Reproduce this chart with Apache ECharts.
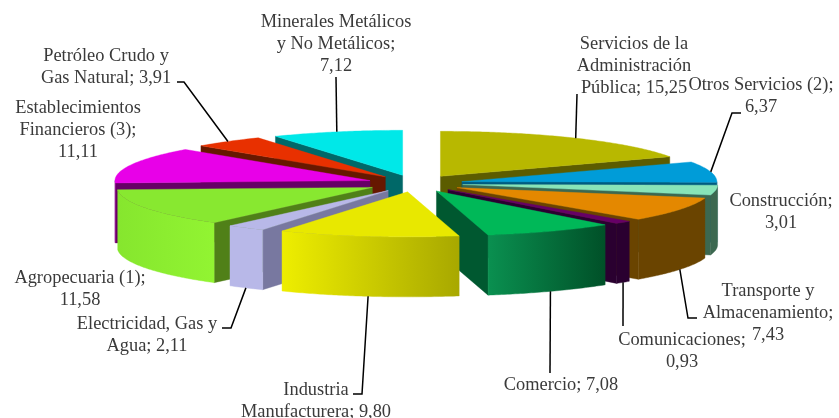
<!DOCTYPE html>
<html>
<head>
<meta charset="utf-8">
<style>html,body{margin:0;padding:0;background:#fff}#c{width:839px;height:418px}</style>
<script src="https://cdn.jsdelivr.net/npm/echarts@6/dist/echarts.min.js"></script>
</head>
<body>
<div id="c"></div>
<script>
// ---- data ----
const categories = [
  'Servicios de la\nAdministración\nPública', 'Otros Servicios (2)', 'Construcción',
  'Transporte y\nAlmacenamiento', 'Comunicaciones', 'Comercio',
  'Industria\nManufacturera', 'Electricidad, Gas y\nAgua', 'Agropecuaria (1)',
  'Establecimientos\nFinancieros (3)', 'Petróleo Crudo y\nGas Natural', 'Minerales Metálicos\ny No Metálicos'
];
const values = [15.25, 6.37, 3.01, 7.43, 0.93, 7.08, 9.80, 2.11, 11.58, 11.11, 3.91, 7.12];
const separators = [' ', '\n', '\n', '\n', '\n', ' ', ' ', ' ', '\n', '\n', ' ', '\n'];

// ---- styles ----
const topColors  = ['#B8B800','#009CD8','#88E4B8','#E48800','#660066','#00B858','#E8E800','#B8B8E8','#88E830','#E800E8','#E83000','#00E8E8'];
const edgeColors = ['#5C5C00','#005C80','#3C6850','#6A4400','#2A0030','#005830','#8A8A00','#7878A0','#508018','#660066','#661800','#006868'];
const wallColors = [
  ['#5C5C00','#5C5C00'],['#005C80','#005C80'],['#3C6850','#3C6850'],['#6A4400','#6A4400'],
  ['#2A0030','#2A0030'],['#0A9050','#005028'],['#EEEE00','#A8A800'],['#B8B8E8','#B8B8E8'],
  ['#86E62E','#92F432'],['#8A008A','#8A008A'],['#661800','#661800'],['#006868','#006868']
];

// ---- 3D pie geometry ----
const CX = 415, CY = 183.5, RX = 255, RY = 45, DEPTH = 60, EXPLODE = 48;
const total = values.reduce((a, b) => a + b, 0);
const slices = [];
values.reduce((acc, v, i) => {
  const a0 = acc / total * 2 * Math.PI, a1 = (acc + v) / total * 2 * Math.PI, m = (a0 + a1) / 2;
  slices.push({ a0, a1, m,
    ax: CX + EXPLODE * Math.sin(m),
    ay: CY - EXPLODE * (RY / RX) * Math.cos(m) });
  return acc + v;
}, 0);
const rim = (s, t, drop) => [s.ax + RX * Math.sin(t), s.ay - RY * Math.cos(t) + (drop || 0)];
const arc = (s, t0, t1, drop) => {
  const n = Math.max(2, Math.ceil((t1 - t0) * 90)), pts = [];
  for (let k = 0; k <= n; k++) pts.push(rim(s, t0 + (t1 - t0) * k / n, drop));
  return pts;
};

// ---- label layout ----
const labelLayout = [
  { x: 634, y: 33,  bend: [[577, 94]] },
  { x: 761, y: 74,  bend: [[741, 113], [732, 113]] },
  { x: 781, y: 190 },
  { x: 768, y: 280, bend: [[697, 318], [688, 318]] },
  { x: 682, y: 329, bend: [[623, 326]] },
  { x: 561, y: 374, bend: [[550, 373]] },
  { x: 316, y: 379, bend: [[353, 394], [362, 394]] },
  { x: 147, y: 313, bend: [[222, 328], [231, 328]] },
  { x: 80,  y: 267 },
  { x: 78,  y: 97 },
  { x: 106, y: 45,  bend: [[177, 82], [184, 82]] },
  { x: 336, y: 11,  bend: [[336, 77]] }
];
const FONT = '18.4px "Liberation Serif", serif';

function renderItem(params) {
  const i = params.dataIndex, s = slices[i], z = 200 + Math.round(-Math.cos(s.m) * 100);
  const kids = [];
  const poly = (points, fill, zz) => ({ type: 'polygon', shape: { points }, z2: zz,
    style: { fill, stroke: fill, lineWidth: 0.4 } });
  // radial wall that faces the viewer
  const edges = [];
  if (s.a0 > Math.PI && s.a0 < 2 * Math.PI) edges.push(s.a0);
  if (s.a1 > 0 && s.a1 < Math.PI) edges.push(s.a1);
  edges.forEach(t => {
    const p = rim(s, t);
    kids.push(poly([[s.ax, s.ay], p, [p[0], p[1] + DEPTH], [s.ax, s.ay + DEPTH]], edgeColors[i], z));
  });
  // outer wall (front half only)
  const w0 = Math.max(s.a0, Math.PI / 2), w1 = Math.min(s.a1, 1.5 * Math.PI);
  if (w1 > w0) {
    const top = arc(s, w0, w1, 0), bot = arc(s, w0, w1, DEPTH).reverse();
    kids.push(poly(top.concat(bot), {
      type: 'linear', x: 0, y: 0, x2: 1, y2: 0,
      colorStops: [
        { offset: 0, color: wallColors[i][0] },
        { offset: 1, color: wallColors[i][1] }
      ]
    }, z + 1));
  }
  // top face
  kids.push(poly([[s.ax, s.ay]].concat(arc(s, s.a0, s.a1, 0)), topColors[i], z + 2));
  // label
  const L = labelLayout[i];
  kids.push({ type: 'text', z2: 900, style: {
    x: L.x, y: L.y, align: 'center', verticalAlign: 'top',
    text: categories[i] + ';' + separators[i] + values[i].toFixed(2).replace('.', ','),
    font: FONT, lineHeight: 22, fill: '#3a3a3a' } });
  // leader
  if (L.bend) {
    const front = s.m > Math.PI / 2 && s.m < 1.5 * Math.PI;
    kids.push({ type: 'polyline', z2: 800,
      shape: { points: L.bend.concat([rim(s, s.m, front ? DEPTH : 0)]) },
      style: { stroke: '#000', lineWidth: 1.5, fill: null } });
  }
  return { type: 'group', children: kids };
}

const chart = echarts.init(document.getElementById('c'), null, { renderer: 'canvas' });
chart.setOption({
  animation: false,
  backgroundColor: '#fff',
  series: [{
    type: 'custom',
    coordinateSystem: 'none',
    silent: true,
    clip: false,
    renderItem,
    data: values.map((v, i) => ({ name: categories[i], value: [v] }))
  }]
});
</script>
</body>
</html>
